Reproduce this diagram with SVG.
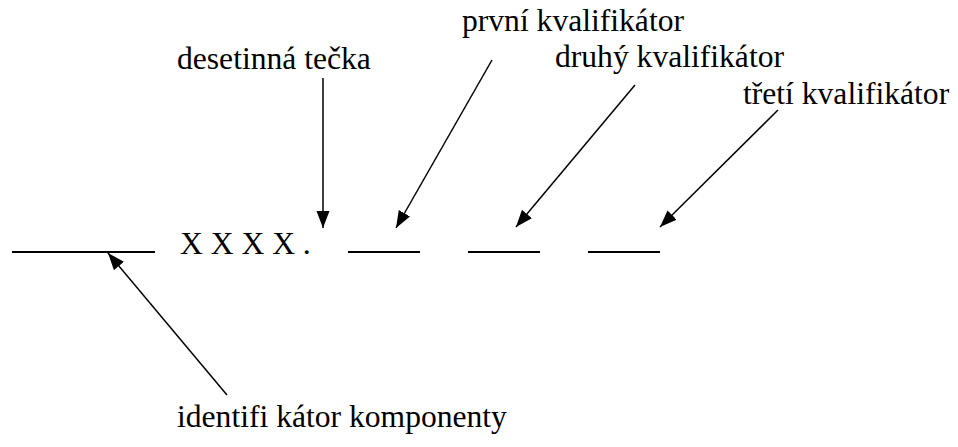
<svg xmlns="http://www.w3.org/2000/svg" width="958" height="447" viewBox="0 0 958 447">
<defs>
<style>
.ln{stroke:#000;stroke-width:2;fill:none}
.ar{stroke:#000;stroke-width:1.5;fill:none;marker-end:url(#ah)}
</style>
<marker id="ah" markerUnits="userSpaceOnUse" markerWidth="18" markerHeight="14" refX="17" refY="6.5" orient="auto" viewBox="0 0 18 14">
<path d="M0,0 L17,6.5 L0,13 Z" fill="#000"/>
</marker>
</defs>
<rect width="958" height="447" fill="#fff"/>
<g font-family="Liberation Serif, serif" font-size="31.6" fill="#000">
<g id="code">
<line class="ln" x1="12" y1="252" x2="155" y2="252"/>
<text x="180" y="254">X X X X .</text>
<line class="ln" x1="348" y1="252" x2="420" y2="252"/>
<line class="ln" x1="468" y1="252" x2="540" y2="252"/>
<line class="ln" x1="588" y1="252" x2="660" y2="252"/>
</g>
<g id="label-desetinna"><text x="177" y="69">desetinná tečka</text></g>
<g id="label-prvni"><text x="462" y="31">první kvalifikátor</text></g>
<g id="label-druhy"><text x="555" y="67">druhý kvalifikátor</text></g>
<g id="label-treti"><text x="743" y="104">třetí kvalifikátor</text></g>
<g id="label-identifikator"><text x="177" y="427">identifi kátor komponenty</text></g>
</g>
<g id="connectors">
<line class="ar" x1="323" y1="78" x2="323" y2="228"/>
<line class="ar" x1="492" y1="60" x2="396" y2="228"/>
<line class="ar" x1="635" y1="85" x2="516" y2="227"/>
<line class="ar" x1="778" y1="110" x2="660" y2="227"/>
<line class="ar" x1="227" y1="395" x2="108" y2="253"/>
</g>
</svg>
